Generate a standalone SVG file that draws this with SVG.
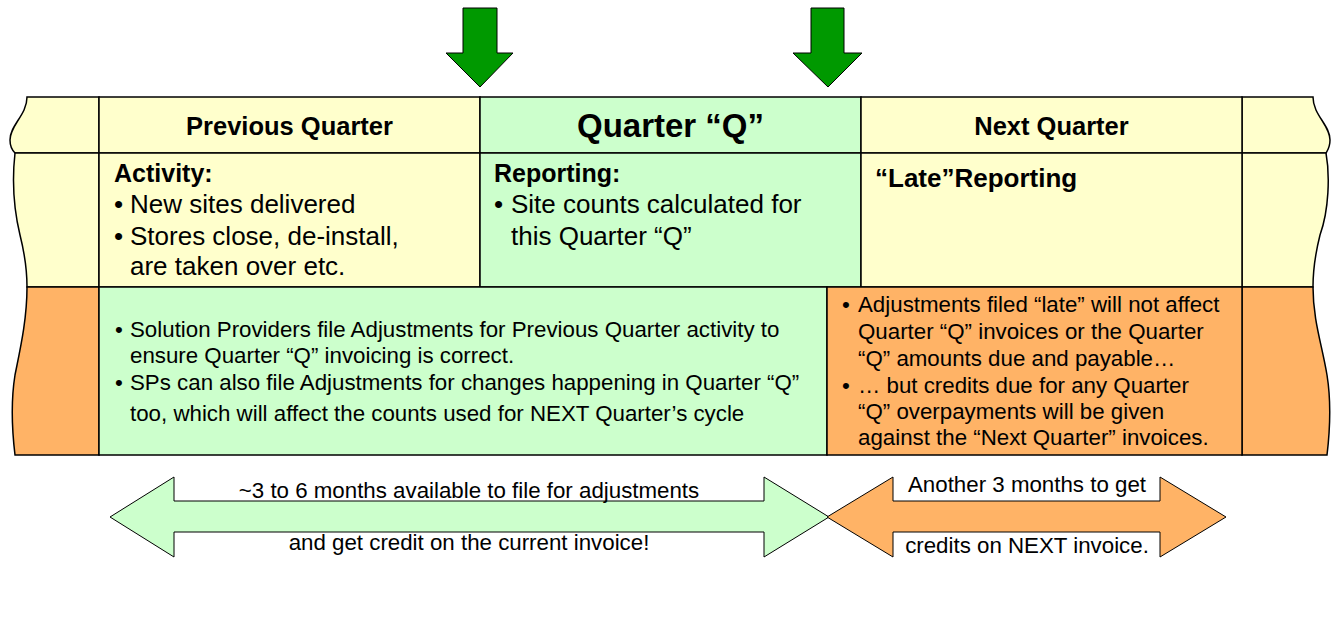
<svg xmlns="http://www.w3.org/2000/svg" width="1338" height="639" viewBox="0 0 1338 639">
  <style>
    .t { font-family: "Liberation Sans", Arial, sans-serif; fill: #000; }
    .b { font-weight: bold; }
    .yel { fill: #FFFFCC; stroke: #000; stroke-width: 1.5; }
    .grn { fill: #CCFFCC; stroke: #000; stroke-width: 1.5; }
    .org { fill: #FFB366; stroke: #000; stroke-width: 1.5; }
    .down { fill: #009900; stroke: #000; stroke-width: 1; }
    .span { stroke: #000; stroke-width: 1; }
    .row2 { font-size: 26px; }
    .row3 { font-size: 22.3px; }
    .lbl { font-size: 22.3px; text-anchor: middle; }
  </style>

  <rect width="1338" height="639" fill="#fff"/>

  <!-- quarter boundary markers -->
  <g id="connectors">
    <polygon class="down" points="463,8 497,8 497,53 513,53 480,87 446,53 463,53"/>
    <polygon class="down" points="811,8 844,8 844,53 862,53 828,87 793,53 811,53"/>
  </g>

  <!-- torn-edge stubs on the left -->
  <g id="left-stub">
    <path class="yel" d="M99,97 L27,97 C27,115 10,125 10,140 C10,148 13,151 15,153 L99,153 Z"/>
    <path class="yel" d="M99,153 L15,153 C12,180 14,210 20,235 C25,255 27,270 27,287 L99,287 Z"/>
    <path class="org" d="M99,287 L27,287 C27,320 20,350 15,375 C11,400 12,430 15,455 L99,455 Z"/>
  </g>

  <!-- torn-edge stubs on the right -->
  <g id="right-stub">
    <path class="yel" d="M1242,97 L1313,97 C1313,115 1330,125 1330,140 C1330,148 1327,151 1326,153 L1242,153 Z"/>
    <path class="yel" d="M1242,153 L1326,153 C1330,175 1329,210 1320,235 C1315,255 1313,270 1313,287 L1242,287 Z"/>
    <path class="org" d="M1242,287 L1313,287 C1313,320 1322,345 1327,375 C1331,400 1330,430 1327,455 L1242,455 Z"/>
  </g>

  <!-- header row -->
  <g id="previous-quarter-header">
    <rect class="yel" x="99" y="97" width="381" height="56"/>
    <text class="t b" x="289.5" y="135" font-size="25.5" text-anchor="middle">Previous Quarter</text>
  </g>
  <g id="quarter-q-header">
    <rect class="grn" x="480" y="97" width="381" height="56"/>
    <text class="t b" x="670.5" y="137" font-size="33" text-anchor="middle">Quarter “Q”</text>
  </g>
  <g id="next-quarter-header">
    <rect class="yel" x="861" y="97" width="381" height="56"/>
    <text class="t b" x="1051.5" y="135" font-size="25.5" text-anchor="middle">Next Quarter</text>
  </g>

  <!-- activity / reporting row -->
  <g id="activity">
    <rect class="yel" x="99" y="153" width="381" height="134"/>
    <text class="t b" x="114" y="182" font-size="25">Activity:</text>
    <text class="t row2" x="114" y="213">•</text>
    <text class="t row2" x="130" y="213">New sites delivered</text>
    <text class="t row2" x="114" y="245">•</text>
    <text class="t row2" x="130" y="245">Stores close, de-install,</text>
    <text class="t row2" x="130" y="275">are taken over etc.</text>
  </g>
  <g id="reporting">
    <rect class="grn" x="480" y="153" width="381" height="134"/>
    <text class="t b" x="494" y="182" font-size="25">Reporting:</text>
    <text class="t row2" x="494" y="213">•</text>
    <text class="t row2" x="511" y="213">Site counts calculated for</text>
    <text class="t row2" x="511" y="245">this Quarter “Q”</text>
  </g>
  <g id="late-reporting">
    <rect class="yel" x="861" y="153" width="381" height="134"/>
    <text class="t b" x="875" y="187" font-size="26">“Late”Reporting</text>
  </g>

  <!-- adjustments row -->
  <g id="adjustments">
    <rect class="grn" x="99" y="287" width="728" height="168"/>
    <text class="t row3" x="115" y="337">•</text>
    <text class="t row3" x="130" y="337">Solution Providers file Adjustments for Previous Quarter activity to</text>
    <text class="t row3" x="130" y="363">ensure Quarter “Q” invoicing is correct.</text>
    <text class="t row3" x="115" y="390">•</text>
    <text class="t row3" x="130" y="390">SPs can also file Adjustments for changes happening in Quarter “Q”</text>
    <text class="t row3" x="130" y="421">too, which will affect the counts used for NEXT Quarter’s cycle</text>
  </g>
  <g id="late-adjustments">
    <rect class="org" x="827" y="287" width="415" height="168"/>
    <text class="t row3" x="842" y="312">•</text>
    <text class="t row3" x="858" y="312">Adjustments filed “late” will not affect</text>
    <text class="t row3" x="858" y="339">Quarter “Q” invoices or the Quarter</text>
    <text class="t row3" x="858" y="366">“Q” amounts due and payable…</text>
    <text class="t row3" x="842" y="393">•</text>
    <text class="t row3" x="858" y="393">… but credits due for any Quarter</text>
    <text class="t row3" x="858" y="419">“Q” overpayments will be given</text>
    <text class="t row3" x="858" y="445">against the “Next Quarter” invoices.</text>
  </g>

  <!-- time-span arrows -->
  <g id="current-window">
    <polygon class="span" fill="#CCFFCC" points="110,517 174,477 174,501 764,501 764,477 829,517 764,557 764,532 174,532 174,557"/>
    <text class="t lbl" x="469" y="498">~3 to 6 months available to file for adjustments</text>
    <text class="t lbl" x="469" y="550">and get credit on the current invoice!</text>
  </g>
  <g id="next-window">
    <polygon class="span" fill="#FFB366" points="827,517 893,477 893,501 1160,501 1160,477 1226,517 1160,557 1160,532 893,532 893,557"/>
    <text class="t lbl" x="1027" y="492">Another 3 months to get</text>
    <text class="t lbl" x="1027" y="553">credits on NEXT invoice.</text>
  </g>
</svg>
